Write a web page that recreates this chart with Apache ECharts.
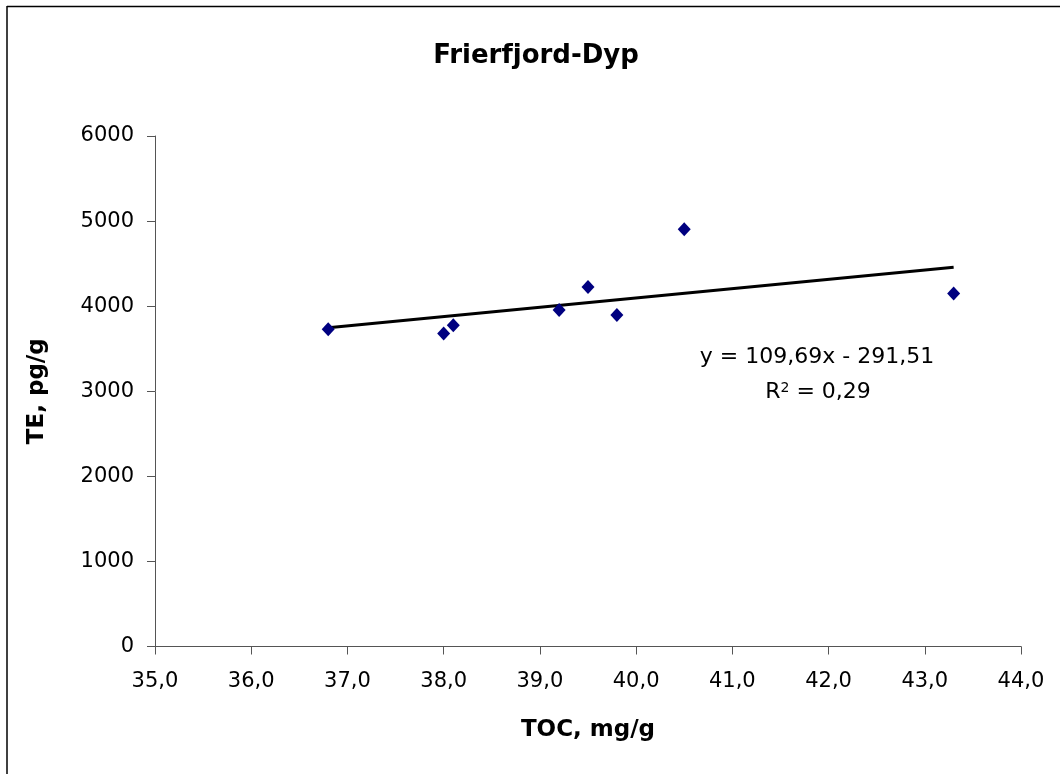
<!DOCTYPE html>
<html>
<head>
<meta charset="utf-8">
<script src="https://cdn.jsdelivr.net/npm/echarts@6/dist/echarts.min.js"></script>
<style>html,body{margin:0;padding:0;background:#fff;}#c{width:1060px;height:774px;}</style>
</head>
<body>
<div id="c"></div>
<script>
const tocValues = [36.8, 38.0, 38.1, 39.2, 39.5, 39.8, 40.5, 43.3];
const teValues = [3730, 3680, 3775, 3955, 4225, 3895, 4905, 4150];
const trendSlope = 109.69;
const trendIntercept = -291.51;
const equationText = 'y = 109,69x - 291,51';
const r2Text = '0,29';

const points = tocValues.map((x, i) => [x, teValues[i]]);
const xMinData = Math.min(...tocValues), xMaxData = Math.max(...tocValues);
const trend = [[xMinData, trendSlope * xMinData + trendIntercept], [xMaxData, trendSlope * xMaxData + trendIntercept]];

const chart = echarts.init(document.getElementById('c'));
const font = '"DejaVu Sans", "Liberation Sans", Arial, sans-serif';
chart.setOption({
  animation: false,
  backgroundColor: '#fff',
  title: {
    text: 'Frierfjord-Dyp', left: 531, top: 38, textAlign: 'center',
    textStyle: { fontFamily: font, fontSize: 26, fontWeight: 'bold', color: '#000' }
  },
  grid: { left: 155, right: 39, top: 136, bottom: 127.5 },
  xAxis: {
    type: 'value', min: 35, max: 44, interval: 1,
    name: 'TOC, mg/g', nameLocation: 'middle', nameGap: 72,
    nameTextStyle: { fontFamily: font, fontSize: 23, fontWeight: 'bold', color: '#000' },
    axisLine: { show: true, lineStyle: { color: '#555', width: 1 } },
    axisTick: { show: true, length: 8, lineStyle: { color: '#555' } },
    axisLabel: { fontFamily: font, fontSize: 21, color: '#000', margin: 25,
      formatter: v => v.toFixed(1).replace('.', ',') },
    splitLine: { show: false }
  },
  yAxis: {
    type: 'value', min: 0, max: 6000, interval: 1000,
    name: 'TE, pg/g', nameLocation: 'middle', nameGap: 106, nameRotate: 90,
    nameTextStyle: { fontFamily: font, fontSize: 23, fontWeight: 'bold', color: '#000' },
    axisLine: { show: true, lineStyle: { color: '#555', width: 1 } },
    axisTick: { show: true, length: 8, lineStyle: { color: '#555' } },
    axisLabel: { fontFamily: font, fontSize: 21, color: '#000', margin: 21,
      formatter: v => String(v) },
    splitLine: { show: false }
  },
  series: [
    {
      type: 'line', data: trend, symbol: 'none', silent: true, z: 2,
      lineStyle: { color: '#000', width: 3 }
    },
    {
      type: 'scatter', data: points, symbol: 'diamond', symbolSize: [13, 14], z: 3,
      itemStyle: { color: '#000080', opacity: 1 }
    }
  ],
  graphic: [
    { type: 'line', shape: { x1: 7, y1: 6.5, x2: 1060, y2: 6.5 }, style: { stroke: '#000', lineWidth: 1.5 } },
    { type: 'line', shape: { x1: 7, y1: 6, x2: 7, y2: 774 }, style: { stroke: '#000', lineWidth: 1.5 } },
    { type: 'text', x: 817, y: 357, style: { text: equationText, font: '22px ' + font, fill: '#000', textAlign: 'center', textVerticalAlign: 'middle' } },
    { type: 'text', x: 818, y: 392, style: {
      text: '{a|R}{s|2}{a| = ' + r2Text + '}', textAlign: 'center', textVerticalAlign: 'middle',
      rich: { a: { fontFamily: font, fontSize: 22, color: '#000' }, s: { fontFamily: font, fontSize: 14, color: '#000', verticalAlign: 'top', padding: [0, 0, 8, 0] } }
    } }
  ]
});
</script>
</body>
</html>
